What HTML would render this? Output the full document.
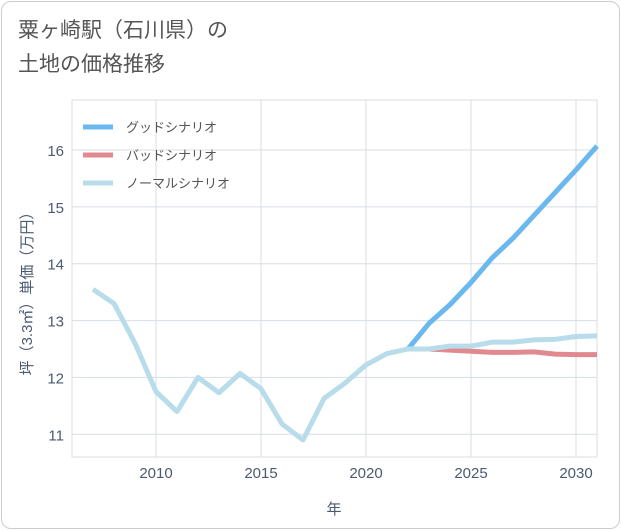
<!DOCTYPE html>
<html><head><meta charset="utf-8"><style>
body{margin:0;background:#fff;font-family:"Liberation Sans","Noto Sans CJK JP",sans-serif;}
#card{position:absolute;left:1px;top:1px;width:617px;height:526px;border:1px solid #ccc;border-radius:10px;background:#fff;}
#title{position:absolute;left:18px;top:14px;font-size:21px;line-height:34px;color:#555;}
</style></head><body>
<div id="card"></div>
<div id="title">粟ヶ崎駅（石川県）の<br>土地の価格推移</div>
<svg id="chart" width="621" height="530" style="position:absolute;left:0;top:0"></svg>
<script>
const years=[2007,2008,2009,2010,2011,2012,2013,2014,2015,2016,2017,2018,2019,2020,2021,2022,2023,2024,2025,2026,2027,2028,2029,2030,2031];
const normalVals=[13.55,13.3,12.6,11.75,11.4,12.0,11.73,12.07,11.8,11.18,10.9,11.63,11.9,12.22,12.42,12.5,12.5,12.55,12.55,12.62,12.62,12.66,12.67,12.72,12.73];
const futureYears=[2022,2023,2024,2025,2026,2027,2028,2029,2030,2031];
const goodVals=[12.5,12.95,13.28,13.67,14.1,14.45,14.85,15.25,15.65,16.07];
const badVals=[12.5,12.5,12.48,12.46,12.44,12.44,12.45,12.41,12.4,12.4];
const xTicks=[2010,2015,2020,2025,2030];
const yTicks=[11,12,13,14,15,16];
const seriesNames=["グッドシナリオ","バッドシナリオ","ノーマルシナリオ"];
const L=72,R=597,T=100,B=457;
const x=v=>L+(v-2006)/(2031-2006)*(R-L);
const y=v=>B-(v-10.6)/(16.88-10.6)*(B-T);
const svg=document.getElementById('chart');const NS='http://www.w3.org/2000/svg';
function mk(t,a,p){const e=document.createElementNS(NS,t);for(const k in a)e.setAttribute(k,a[k]);(p||svg).appendChild(e);return e;}
const bg=mk('rect',{x:L,y:T,width:R-L,height:B-T,fill:'#fff',stroke:'#ddd'});


xTicks.forEach(t=>{
 const g=mk('line',{x1:x(t),x2:x(t),y1:T,y2:B,stroke:'#d8dee6'});
 
 
 const tx=mk('text',{x:x(t),y:478,'text-anchor':'middle','font-size':15,fill:'#4a5a70'});tx.textContent=t;
 
 
});
yTicks.forEach(t=>{
 const g=mk('line',{x1:L,x2:R,y1:y(t),y2:y(t),stroke:'#d8dee6'});
 
 
 const tx=mk('text',{x:64,y:y(t)+6,'text-anchor':'end','font-size':15,fill:'#4a5a70'});tx.textContent=t;
 
 
});
const xt=mk('text',{x:334,y:514,'text-anchor':'middle','font-size':15,fill:'#4a5a70'});xt.textContent='年';


const yt=mk('text',{x:0,y:0,'text-anchor':'middle','font-size':15,fill:'#4a5a70',transform:'translate(32,290) rotate(-90)'});yt.textContent='坪（3.3㎡）単価（万円）';


function line(xs,vs,c,n){const p=mk('polyline',{points:xs.map((v,i)=>x(v)+','+y(vs[i])).join(' '),fill:'none',stroke:c,'stroke-width':5,'stroke-linejoin':'round'});
 
 }
line(futureYears,goodVals,'#6ab8ee','good-scenario-line');
line(futureYears,badVals,'#e08a90','bad-scenario-line');
line(years,normalVals,'#b8dcea','normal-scenario-line');
const colors=['#6ab8ee','#e08a90','#b8dcea'];
seriesNames.forEach((s,i)=>{
 const g=mk('g',{});
 
 
 mk('line',{x1:83,x2:113,y1:127+i*28,y2:127+i*28,stroke:colors[i],'stroke-width':5},g);
 const t=mk('text',{x:126,y:132+i*28,'font-size':13,fill:'#555'},g);t.textContent=s;
});
</script>
</body></html>
